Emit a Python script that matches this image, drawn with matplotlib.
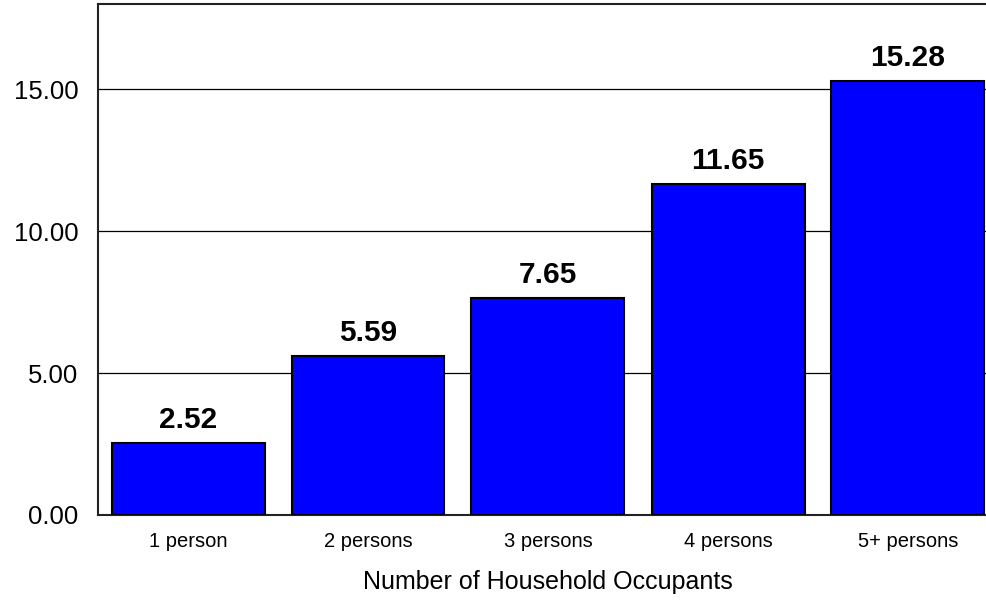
import matplotlib.pyplot as plt

plt.rcParams['font.family'] = ['Liberation Sans', 'DejaVu Sans']

categories = ['1 person', '2 persons', '3 persons', '4 persons', '5+ persons']
values = [2.52, 5.59, 7.65, 11.65, 15.28]
yticks = [0, 5, 10, 15]

fig = plt.figure(figsize=(9.87, 6.01), dpi=100)
ax = fig.add_axes([98 / 987, 86 / 601, 900 / 987, 511 / 601])

x = list(range(len(categories)))
bars = ax.bar(x, values, width=0.85, color='#0000FF', edgecolor='black',
              linewidth=1.5, zorder=3)

for xi, v in zip(x, values):
    ax.annotate(f'{v:.2f}', (xi, v), xytext=(0, 6.5), textcoords='offset points',
                ha='center', va='bottom', fontsize=21.5, fontweight='bold')

ax.set_xlim(-0.5, 4.5)
ax.set_ylim(0, 18)
ax.set_yticks(yticks)
ax.set_yticklabels([f'{t:.2f}' for t in yticks], fontsize=18.5)
ax.set_xticks(x)
ax.set_xticklabels(categories, fontsize=14.5)
ax.tick_params(axis='y', length=0, pad=14)
ax.tick_params(axis='x', length=0, pad=12)
ax.grid(axis='y', color='black', linewidth=0.9, zorder=0)
ax.set_axisbelow(True)

for s in ['left', 'top', 'bottom']:
    ax.spines[s].set_linewidth(1.5)
    ax.spines[s].set_color('#222222')
ax.spines['right'].set_visible(False)

ax.set_xlabel('Number of Household Occupants', fontsize=18, labelpad=14)

fig.savefig('out.png', dpi=100)
